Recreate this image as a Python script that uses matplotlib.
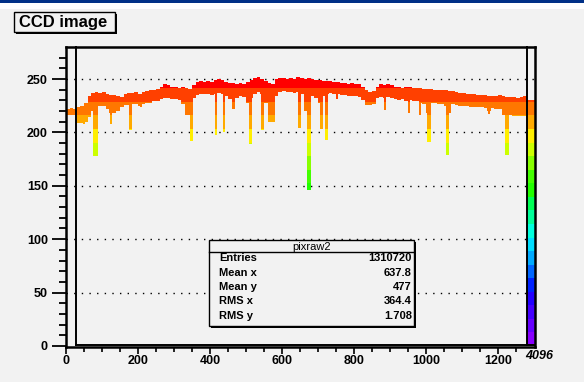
import numpy as np
import matplotlib
matplotlib.use("Agg")
import matplotlib.pyplot as plt
from matplotlib.colors import ListedColormap, BoundaryNorm
from matplotlib.patches import Rectangle

plt.rcParams["font.family"] = ["Liberation Sans", "DejaVu Sans"]

# pixraw2 seen from the front: for every CCD column the range of pixel values
# (max / min over the rows), in 10-column bins over x = 0..1280
bin_width = 10
col_hi = [222, 223, 222, 224, 225, 228, 234, 237, 238, 237, 238, 236, 235, 235, 234, 233,
          236, 237, 237, 238, 236, 238, 239, 240, 240, 241, 243, 245, 244, 243, 243, 242,
          243, 242, 241, 244, 247, 248, 247, 248, 247, 249, 250, 249, 247, 246, 246, 245,
          246, 245, 247, 249, 251, 252, 250, 248, 246, 245, 250, 251, 251, 250, 251, 250,
          252, 251, 250, 251, 250, 249, 249, 248, 248, 248, 247, 247, 246, 246, 245, 246,
          245, 245, 243, 240, 238, 239, 243, 245, 244, 245, 244, 243, 243, 242, 243, 243,
          242, 242, 242, 241, 241, 241, 240, 240, 240, 240, 239, 239, 238, 237, 237, 236,
          236, 236, 235, 235, 235, 234, 234, 234, 235, 234, 233, 233, 233, 232, 233, 234]
col_lo = [216, 216, 216, 209, 209, 210, 214, 220, 224, 225, 225, 222, 218, 218, 220, 224,
          226, 226, 227, 227, 225, 227, 228, 228, 229, 229, 231, 232, 232, 231, 231, 230,
          227, 216, 216, 232, 235, 236, 236, 236, 235, 236, 237, 236, 234, 231, 222, 232,
          234, 233, 228, 232, 236, 238, 236, 228, 210, 210, 234, 238, 239, 238, 238, 237,
          238, 236, 220, 220, 234, 232, 228, 234, 236, 237, 236, 236, 235, 235, 234, 234,
          234, 233, 230, 226, 226, 227, 232, 233, 232, 233, 232, 231, 230, 231, 229, 230,
          229, 229, 228, 227, 218, 228, 228, 227, 227, 225, 218, 227, 226, 225, 225, 225,
          224, 224, 224, 224, 223, 220, 223, 222, 222, 216, 210, 216, 215, 215, 215, 215]

# narrow low columns: first column, number of columns, lowest value
dip_x = [46, 76, 122, 175, 206, 344, 413, 435, 509, 543, 645, 670, 707, 720, 750, 883,
         949, 981, 1002, 1056, 1172, 1220]
dip_cols = [7, 12, 7, 7, 6, 10, 7, 7, 7, 7, 7, 12, 6, 7, 6, 6, 6, 6, 12, 7, 7, 10]
dip_lo = [208, 178, 208, 202, 224, 192, 198, 200, 189, 202, 204, 146, 203, 193, 231, 221,
          218, 216, 191, 179, 217, 179]

# last column (edge of the sensor) runs from zero up
edge_x = 1280
edge_cols = 23
edge_hi = 230

# contour colours, lowest level first
level_colors = ["#8800ff", "#6600ff", "#4400ff", "#2200ff", "#0022ff", "#0066ff",
                "#00aaff", "#00ddff", "#00ffdd", "#00ff99", "#00ff55", "#22ff00",
                "#44ff00", "#88ff00", "#ccff00", "#ffee00", "#ffaa00", "#ff7700",
                "#ff4000", "#ff0000"]
z_top = 254

stats_labels = ["Entries", "Mean x", "Mean y", "RMS x", "RMS y"]
stats_values = ["1310720", "637.8", "477", "364.4", "1.708"]

W, H = 584, 382
BG = "#f2f2f2"


def fpx(x, y):
    """pixel position (from top-left) -> figure fraction"""
    return x / W, 1 - y / H


fig = plt.figure(figsize=(W / 100, H / 100), dpi=100, facecolor=BG)

# window decoration strip at the top
fig.patches.append(Rectangle(fpx(0, 9), 1, 6 / H, transform=fig.transFigure,
                             facecolor="white", edgecolor="none", zorder=0))
fig.patches.append(Rectangle(fpx(0, 3), 1, 3 / H, transform=fig.transFigure,
                             facecolor="#003087", edgecolor="none", zorder=1))

x0, y0 = fpx(66, 347)
x1, y1 = fpx(535, 47)
ax = fig.add_axes([x0, y0, x1 - x0, y1 - y0])
ax.set_facecolor(BG)

xmax, zmax = 1303, 280
ax.set_xlim(0, xmax)
ax.set_ylim(-1, zmax)

# column ranges at single-column resolution
nx = xmax
lo = np.full(nx, np.nan)
hi = np.full(nx, np.nan)
for i, (h, l) in enumerate(zip(col_hi, col_lo)):
    lo[i * bin_width:(i + 1) * bin_width] = l
    hi[i * bin_width:(i + 1) * bin_width] = h
for x, n, l in zip(dip_x, dip_cols, dip_lo):
    lo[x:x + n] = np.minimum(lo[x:x + n], l)
lo[edge_x:edge_x + edge_cols] = 0
hi[edge_x:edge_x + edge_cols] = edge_hi

dz = 0.25
zc = np.arange(0, zmax, dz) + dz / 2
img = np.where((zc[:, None] >= lo[None, :]) & (zc[:, None] <= hi[None, :]),
               zc[:, None], np.nan)
img = np.ma.masked_invalid(img)

nlev = len(level_colors)
levels = np.linspace(0, z_top, nlev + 1)
cmap = ListedColormap(level_colors)
cmap.set_over(level_colors[-1])
cmap.set_bad((0, 0, 0, 0))
norm = BoundaryNorm(levels, nlev)

ax.imshow(img, origin="lower", extent=(0, nx, 0, zmax), aspect="auto",
          cmap=cmap, norm=norm, interpolation="nearest", zorder=2)

# dotted grid
for z in range(50, 251, 50):
    ax.axhline(z, color="black", lw=1.0, ls=(0, (1, 4.5)), zorder=1)

# outer frame
for sp in ax.spines.values():
    sp.set_linewidth(1.8)
    sp.set_zorder(5)

# inner (back) frame
xi0 = 28
xi1 = 1280
zb = 1.0
ax.plot([xi0, xi0], [zb, zmax], color="black", lw=1.4, zorder=4, clip_on=False)
ax.plot([xi1, xi1], [zb, zmax], color="black", lw=1.4, zorder=4, clip_on=False)
ax.plot([xi0, xmax], [zb, zb], color="black", lw=1.4, zorder=4, clip_on=False)

# axes ticks
ax.set_yticks(np.arange(0, 251, 50))
ax.set_yticks(np.arange(0, 271, 10), minor=True)
ax.set_xticks(np.arange(0, 1201, 200))
ax.set_xticks(np.arange(0, 1281, 50), minor=True)
ax.tick_params(axis="y", which="major", length=10, width=1.3, direction="out",
               labelsize=9, pad=3, right=False)
ax.tick_params(axis="y", which="minor", length=5, width=1.3, direction="out", right=False)
ax.tick_params(axis="x", which="major", length=5, width=1.2, direction="out",
               labelsize=9, pad=1, top=False)
ax.tick_params(axis="x", which="minor", length=3.5, width=1.2, direction="out", top=False)
for lab in ax.get_xticklabels() + ax.get_yticklabels():
    lab.set_fontweight("bold")

# end label of the depth axis, squeezed in at the corner
fig.text(*fpx(539, 356), "4096", fontsize=9, fontweight="bold", fontstyle="italic",
         ha="center", va="center")


def shadow_box(xl, yt, xr, yb, off=2):
    fig.patches.append(Rectangle(fpx(xl + off, yb + off), (xr - xl) / W, (yb - yt) / H,
                                 transform=fig.transFigure, facecolor="black",
                                 edgecolor="none", zorder=8))
    fig.patches.append(Rectangle(fpx(xl, yb), (xr - xl) / W, (yb - yt) / H,
                                 transform=fig.transFigure, facecolor=BG,
                                 edgecolor="black", lw=1.0, zorder=9))


# title box
shadow_box(14, 12, 115, 32)
fig.text(*fpx(19, 22.5), "CCD image", fontsize=12, fontweight="bold",
         ha="left", va="center", zorder=10)

# statistics box
sx0, sy0, sx1, sy1 = 209, 240, 414, 326
shadow_box(sx0, sy0, sx1, sy1)
fig.text(*fpx((sx0 + sx1) / 2, 246.5), "pixraw2", fontsize=8,
         ha="center", va="center", zorder=10)
fig.lines.append(plt.Line2D([sx0 / W, sx1 / W], [1 - 252.5 / H] * 2,
                            transform=fig.transFigure, color="black", lw=1.0, zorder=10))
for k, (lab, val) in enumerate(zip(stats_labels, stats_values)):
    yy = 258 + k * 14.5
    fig.text(*fpx(219, yy), lab, fontsize=8, fontweight="bold",
             ha="left", va="center", zorder=10)
    fig.text(*fpx(412, yy), val, fontsize=8, fontweight="bold",
             ha="right", va="center", zorder=10)

fig.savefig("out.png", dpi=100, facecolor=BG)
